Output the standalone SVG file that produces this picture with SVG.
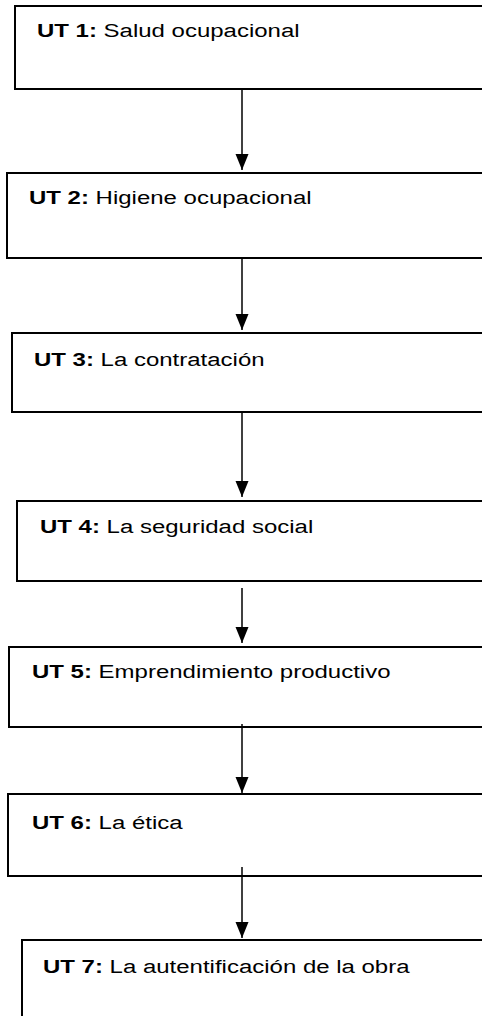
<svg xmlns="http://www.w3.org/2000/svg" width="482" height="1016" viewBox="0 0 482 1016">
<defs>
<style>
.box{fill:#fff;stroke:#000;stroke-width:2}
.lbl{font-family:"Liberation Sans",Arial,sans-serif;font-size:19px;fill:#000}
.b{font-weight:bold}
.conn{stroke:#000;stroke-width:1.5;fill:none}
</style>
<marker id="ah" markerUnits="userSpaceOnUse" viewBox="0 -7 16 14" markerWidth="16" markerHeight="14" refX="16" refY="0" orient="auto">
<path d="M0,-6.5 L16,0 L0,6.5 z" fill="#000"/>
</marker>
</defs>
<rect width="482" height="1016" fill="#fff"/>
<g id="ut1"><rect class="box" x="15" y="6" width="490" height="83"/><text class="lbl" transform="translate(37,37) scale(1.263,1)"><tspan class="b">UT 1:</tspan> Salud ocupacional</text></g>
<g id="ut2"><rect class="box" x="7" y="173" width="490" height="85"/><text class="lbl" transform="translate(29,204) scale(1.263,1)"><tspan class="b">UT 2:</tspan> Higiene ocupacional</text></g>
<g id="ut3"><rect class="box" x="12" y="333" width="490" height="79"/><text class="lbl" transform="translate(34,366) scale(1.263,1)"><tspan class="b">UT 3:</tspan> La contratación</text></g>
<g id="ut4"><rect class="box" x="17" y="501" width="490" height="80"/><text class="lbl" transform="translate(40,533) scale(1.263,1)"><tspan class="b">UT 4:</tspan> La seguridad social</text></g>
<g id="ut5"><rect class="box" x="9" y="647" width="490" height="80"/><text class="lbl" transform="translate(32,678) scale(1.263,1)"><tspan class="b">UT 5:</tspan> Emprendimiento productivo</text></g>
<g id="ut6"><rect class="box" x="8" y="794" width="490" height="82"/><text class="lbl" transform="translate(32,829) scale(1.263,1)"><tspan class="b">UT 6:</tspan> La ética</text></g>
<g id="ut7"><rect class="box" x="22" y="940" width="490" height="100"/><text class="lbl" transform="translate(43,973) scale(1.263,1)"><tspan class="b">UT 7:</tspan> La autentificación de la obra</text></g>
<g id="connectors">
<line class="conn" x1="242" y1="89" x2="242" y2="170" marker-end="url(#ah)"/>
<line class="conn" x1="242" y1="258" x2="242" y2="330" marker-end="url(#ah)"/>
<line class="conn" x1="242" y1="412" x2="242" y2="497" marker-end="url(#ah)"/>
<line class="conn" x1="242" y1="588" x2="242" y2="643" marker-end="url(#ah)"/>
<line class="conn" x1="242" y1="724" x2="242" y2="793" marker-end="url(#ah)"/>
<line class="conn" x1="242" y1="867" x2="242" y2="938" marker-end="url(#ah)"/>
</g>
</svg>
